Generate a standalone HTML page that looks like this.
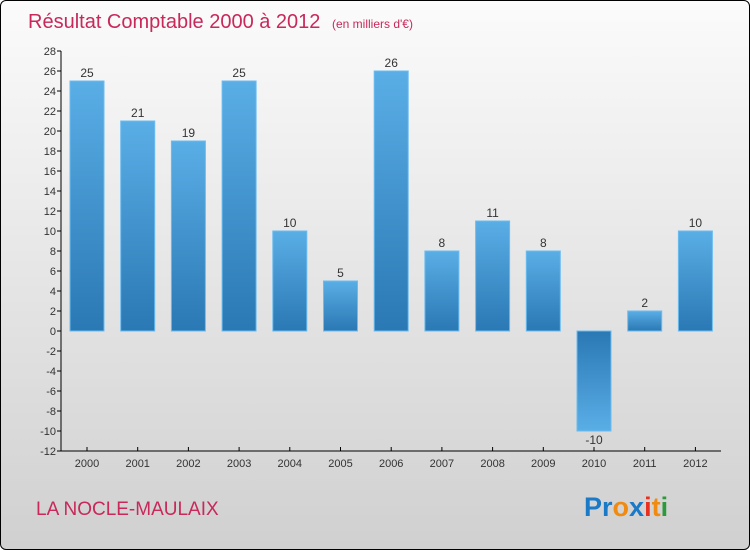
<!DOCTYPE html>
<html><head><meta charset="utf-8"><style>
body{margin:0;width:750px;height:550px;overflow:hidden;font-family:"Liberation Sans",sans-serif}
#c{position:absolute;left:0;top:0;width:748px;height:548px;border:1px solid #000;border-radius:6px;background:linear-gradient(#fbfbfb,#d0d0d0);overflow:hidden}
</style></head><body>
<div id="c">
<svg width="750" height="550">
<defs>
<linearGradient id="gp" x1="0" y1="0" x2="0" y2="1"><stop offset="0" stop-color="#5aaee6"/><stop offset="1" stop-color="#2a78b4"/></linearGradient>
<linearGradient id="gn" x1="0" y1="0" x2="0" y2="1"><stop offset="0" stop-color="#2a78b4"/><stop offset="1" stop-color="#5aaee6"/></linearGradient>
</defs>
<text x="27" y="27" font-size="20" fill="#c8285a">Résultat Comptable 2000 à 2012 <tspan font-size="12" dx="6">(en milliers d'€)</tspan></text>
<g id="ax"></g><g id="bars"></g>
<text x="35" y="514" font-size="19" fill="#c8285a">LA NOCLE-MAULAIX</text>
<text x="583" y="515" font-size="27" font-weight="bold"><tspan fill="#1a7ac8">Pr</tspan><tspan fill="#f08a10">o</tspan><tspan fill="#1a7ac8">x</tspan><tspan fill="#e83020">i</tspan><tspan fill="#f08a10">t</tspan><tspan fill="#2a9a3a">i</tspan></text>
</svg></div>
<script>
const years=["2000","2001","2002","2003","2004","2005","2006","2007","2008","2009","2010","2011","2012"];
const values=[25,21,19,25,10,5,26,8,11,8,-10,2,10];
const yTicks=[-12,-10,-8,-6,-4,-2,0,2,4,6,8,10,12,14,16,18,20,22,24,26,28];
const NS="http://www.w3.org/2000/svg";
const y=v=>330-v*10;
const x=i=>86+i*50.7;
const ax=document.getElementById('ax'),bg=document.getElementById('bars');
function mk(t,a,p,txt){const e=document.createElementNS(NS,t);for(const k in a)e.setAttribute(k,a[k]);if(txt!==undefined)e.textContent=txt;p.appendChild(e);return e;}
let e=mk('line',{x1:60,y1:y(28),x2:60,y2:y(-12),stroke:'#000'},ax);


e=mk('line',{x1:60,y1:450,x2:720,y2:450,stroke:'#000'},ax);


yTicks.forEach(t=>{
 mk('line',{x1:56,y1:y(t),x2:60,y2:y(t),stroke:'#000'},ax);
 e=mk('text',{x:55,y:y(t)+4,'font-size':11,'text-anchor':'end',fill:'#333'},ax,t);
 
 
});
years.forEach((yr,i)=>{
 mk('line',{x1:x(i),y1:446,x2:x(i),y2:450,stroke:'#000'},ax);
 e=mk('text',{x:x(i),y:466,'font-size':11,'text-anchor':'middle',fill:'#333'},ax,yr);
 
 
 const v=values[i],top=Math.min(y(v),y(0)),h=Math.abs(y(v)-y(0));
 e=mk('rect',{x:x(i)-17,y:top,width:34,height:h,fill:v>=0?'url(#gp)':'url(#gn)',stroke:'#6bbcf0','stroke-width':1},bg);
 
 
 e=mk('text',{x:x(i),y:v>=0?y(v)-4:y(v)+13,'font-size':12,'text-anchor':'middle',fill:'#333'},bg,v<0?'-'+Math.abs(v):v);
 
 
});
</script>
</body></html>
